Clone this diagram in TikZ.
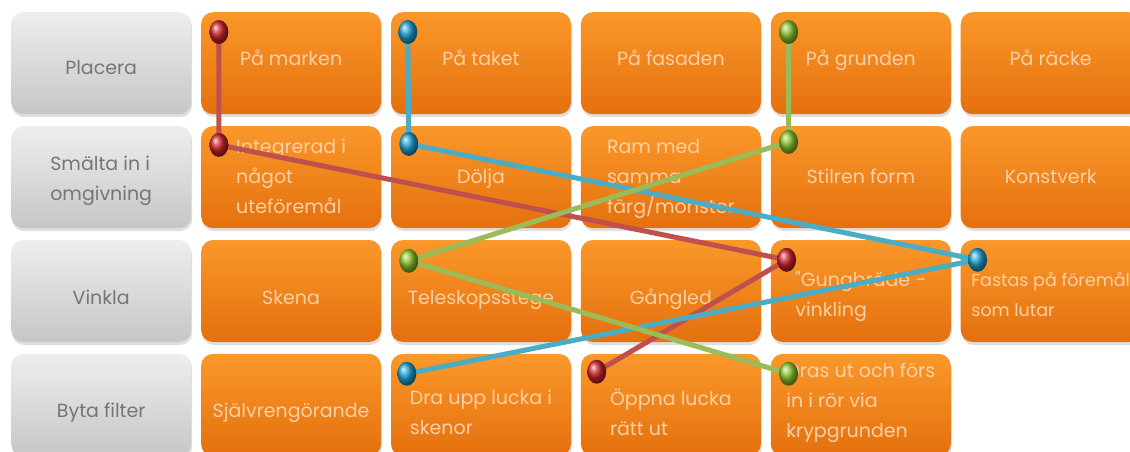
\documentclass[tikz,border=0pt]{standalone}
\usepackage{fontspec}
\setmainfont{Poppins}
\usetikzlibrary{positioning,shapes.geometric,shadows}

\definecolor{boxtop}{RGB}{250,152,42}
\definecolor{boxbot}{RGB}{228,112,14}
\definecolor{boxtext}{RGB}{252,208,166}
\definecolor{headtop}{RGB}{238,238,238}
\definecolor{headbot}{RGB}{198,198,198}
\definecolor{headtext}{RGB}{118,118,118}
\definecolor{wirered}{RGB}{192,80,77}
\definecolor{wireblue}{RGB}{75,172,198}
\definecolor{wiregreen}{RGB}{155,187,89}
\definecolor{knobred}{RGB}{205,35,45}
\definecolor{knobblue}{RGB}{30,160,210}
\definecolor{knobgreen}{RGB}{140,195,45}

\pgfdeclarelayer{wires}
\pgfdeclarelayer{knobs}
\pgfsetlayers{main,wires,knobs}

% extra room above the first line of a wrapped text
\newcommand{\headroom}[1]{\rule{0pt}{#1}}

\begin{document}
\begin{tikzpicture}[
    x=1pt, y=-1pt,
    node distance=11.5pt and 9.5pt,
    cell/.style={rectangle, rounded corners=12pt, minimum width=180pt, minimum height=102pt, inner sep=0pt, align=left,
        font=\fontsize{19}{30}\selectfont, execute at begin node=\strut, execute at end node=\strut},
    choice/.style={cell, top color=boxtop, bottom color=boxbot, text=boxtext, drop shadow={opacity=0.25, shadow xshift=1pt, shadow yshift=-3pt}},
    heading/.style={cell, top color=headtop, bottom color=headbot, text=headtext, drop shadow={opacity=0.25, shadow xshift=1pt, shadow yshift=-3pt}},
    sink/.style={execute at begin node={\rule{0pt}{#1}}},
    lift/.style={execute at end node={\rule[-#1]{0pt}{0pt}}},
    knob/.style={ellipse, minimum width=19pt, minimum height=24pt, inner sep=0pt, shading=ball, ball color=#1},
    wire/.style={line width=5pt, draw=#1}
]
\useasboundingbox (0,0) rectangle (1130,452);
\fill[white] (0,0) rectangle (1130,452);

% row 1
\node[heading, sink=31pt, anchor=north west] (placera) at (11,12) {Placera};
\node[choice, lift=17pt, right=of placera] (marken) {På marken};
\node[choice, lift=17pt, right=of marken] (taket) {På taket};
\node[choice, lift=17pt, right=of taket] (fasaden) {På fasaden};
\node[choice, lift=17pt, right=of fasaden] (grunden) {På grunden};
\node[choice, lift=17pt, right=of grunden] (racke) {På räcke};
% row 2
\node[heading, below=of placera] (smalta) {\headroom{26pt}Smälta in i\\omgivning};
\node[choice, right=of smalta] (integrerad) {\headroom{21pt}Integrerad i\\något\\uteföremål};
\node[choice, right=of integrerad] (dolja) {Dölja};
\node[choice, right=of dolja] (ram) {\headroom{21pt}Ram med\\samma\\färg/mönster};
\node[choice, right=of ram] (stilren) {Stilren form};
\node[choice, right=of stilren] (konstverk) {Konstverk};
% row 3
\node[heading, sink=35pt, below=of smalta] (vinkla) {Vinkla};
\node[choice, sink=35pt, right=of vinkla] (skena) {Skena};
\node[choice, sink=35pt, right=of skena] (stege) {Teleskopsstege};
\node[choice, sink=35pt, right=of stege] (gangled) {Gångled};
\node[choice, right=of gangled] (gungbrade) {\headroom{30pt}\textquotedbl Gungbräde\textquotedbl-\\vinkling};
\node[choice, right=of gungbrade, font=\fontsize{17.5}{30}\selectfont] (fastas) {\headroom{29pt}Fastas på föremål\\som lutar};
% row 4
\node[heading, sink=35pt, below=of vinkla] (byta) {Byta filter};
\node[choice, sink=35pt, right=of byta] (sjalv) {Självrengörande};
\node[choice, right=of sjalv] (draupp) {\headroom{38pt}Dra upp lucka i\\skenor};
\node[choice, right=of draupp] (oppna) {\headroom{40pt}Öppna lucka\\rätt ut};
\node[choice, right=of oppna] (dras) {Dras ut och förs\\in i rör via\\krypgrunden};

% knobs
\begin{pgfonlayer}{knobs}
\node[knob=knobred] (r1) at ([shift={(18,20)}]marken.north west) {};
\node[knob=knobred] (r2) at ([shift={(18,19)}]integrerad.north west) {};
\node[knob=knobred] (r3) at ([shift={(16,20)}]gungbrade.north west) {};
\node[knob=knobred] (r4) at ([shift={(16,18)}]oppna.north west) {};
\node[knob=knobblue] (b1) at ([shift={(17,20)}]taket.north west) {};
\node[knob=knobblue] (b2) at ([shift={(18,18)}]dolja.north west) {};
\node[knob=knobblue] (b3) at ([shift={(17,20)}]fastas.north west) {};
\node[knob=knobblue] (b4) at ([shift={(16,20)}]draupp.north west) {};
\node[knob=knobgreen] (g1) at ([shift={(18,20)}]grunden.north west) {};
\node[knob=knobgreen] (g2) at ([shift={(18,16)}]stilren.north west) {};
\node[knob=knobgreen] (g3) at ([shift={(18,21)}]stege.north west) {};
\node[knob=knobgreen] (g4) at ([shift={(18,20)}]dras.north west) {};
\end{pgfonlayer}

% wires
\begin{pgfonlayer}{wires}
\draw[wire=wirered] (r1.center) -- (r2.center) -- (r3.center) -- (r4.center);
\draw[wire=wireblue] (b1.center) -- (b2.center) -- (b3.center) -- (b4.center);
\draw[wire=wiregreen] (g1.center) -- (g2.center) -- (g3.center) -- (g4.center);
\end{pgfonlayer}
\end{tikzpicture}
\end{document}
